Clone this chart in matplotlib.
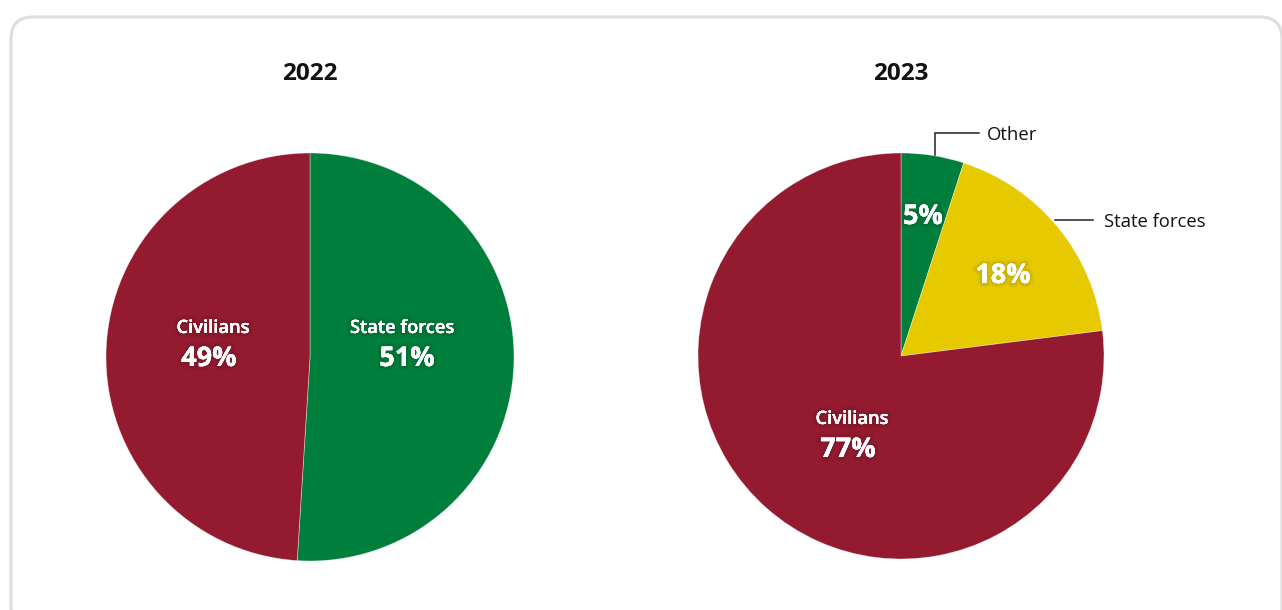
import matplotlib
matplotlib.use("Agg")
import matplotlib.pyplot as plt
import matplotlib.patheffects as pe
from matplotlib.patches import FancyBboxPatch

plt.rcParams['font.family'] = ['Open Sans', 'DejaVu Sans']

# ---- data ----
years = ["2022", "2023"]
labels_2022 = ["State forces", "Civilians"]
values_2022 = [51, 49]
labels_2023 = ["Other", "State forces", "Civilians"]
values_2023 = [5, 18, 77]

RED = "#941B2F"
GREEN = "#007E3C"
YELLOW = "#E7C900"
colors = {"State forces": GREEN, "Civilians": RED, "Other": GREEN}
colors_2023 = {"Other": GREEN, "State forces": YELLOW, "Civilians": RED}

W, H = 1282, 610
fig = plt.figure(figsize=(W / 100, H / 100), dpi=100)
ax = fig.add_axes([0, 0, 1, 1])
ax.set_xlim(0, W)
ax.set_ylim(0, H)
ax.axis("off")

# frame
frame = FancyBboxPatch((11, -20), 1271, H - 16 + 20 - 1,
                       boxstyle="round,pad=0,rounding_size=22",
                       fc="white", ec="#DEDEDE", lw=2.2, zorder=0)
ax.add_patch(frame)

R = 204
c1 = (310, H - 357)
c2 = (901, H - 356)

shadow = [pe.withStroke(linewidth=6, foreground=(0, 0, 0, 0.04)),
          pe.withStroke(linewidth=3.5, foreground=(0, 0, 0, 0.06)),
          pe.Normal()]

ax.pie(values_2022, colors=[colors[l] for l in labels_2022], startangle=90,
       counterclock=False, center=c1, radius=R, frame=True,
       wedgeprops=dict(edgecolor=(1, 1, 1, 0.5), linewidth=0.5))
ax.pie(values_2023, colors=[colors_2023[l] for l in labels_2023], startangle=90,
       counterclock=False, center=c2, radius=R - 1, frame=True,
       wedgeprops=dict(edgecolor=(1, 1, 1, 0.5), linewidth=0.5))
ax.set_xlim(0, W)
ax.set_ylim(0, H)
ax.set_aspect("equal")
ax.axis("off")

# titles
ax.text(c1[0], H - 74, years[0], ha="center", va="center", fontsize=17.5,
        fontweight="bold", color="#111111")
ax.text(c2[0], H - 74, years[1], ha="center", va="center", fontsize=17.5,
        fontweight="bold", color="#111111")

def inner(cx, cy, dx, dy, name, val, ndx=0):
    if name:
        ax.text(cx + dx + ndx, cy + dy + 31, name, ha="center", va="center",
                fontsize=13.2, fontweight="semibold", color="white",
                path_effects=shadow)
    ax.text(cx + dx, cy + dy, f"{val}%", ha="center", va="center",
            fontsize=19.5, fontweight="bold", color="white", path_effects=shadow)

# 2022 labels
inner(c1[0], c1[1], 97, -2, labels_2022[0], values_2022[0], ndx=-5)
inner(c1[0], c1[1], -101, -2, labels_2022[1], values_2022[1], ndx=4)

# 2023 labels
inner(c2[0], c2[1], 22, 139, None, values_2023[0])
inner(c2[0], c2[1], 102, 80, None, values_2023[1])
inner(c2[0], c2[1], -53, -94, labels_2023[2], values_2023[2], ndx=4)

# leader lines 2023
lc = "#222222"
ax.plot([935, 935, 979], [H - 155, H - 133, H - 133], color=lc, lw=1.1,
        solid_joinstyle="miter")
ax.text(987, H - 135, labels_2023[0], ha="left", va="center", fontsize=13.3,
        color="#111111")
ax.plot([1055, 1093], [H - 220, H - 220], color=lc, lw=1.1)
ax.text(1104, H - 222, labels_2023[1], ha="left", va="center", fontsize=13.3,
        color="#111111")

fig.savefig("out.png", dpi=100, facecolor="white")
